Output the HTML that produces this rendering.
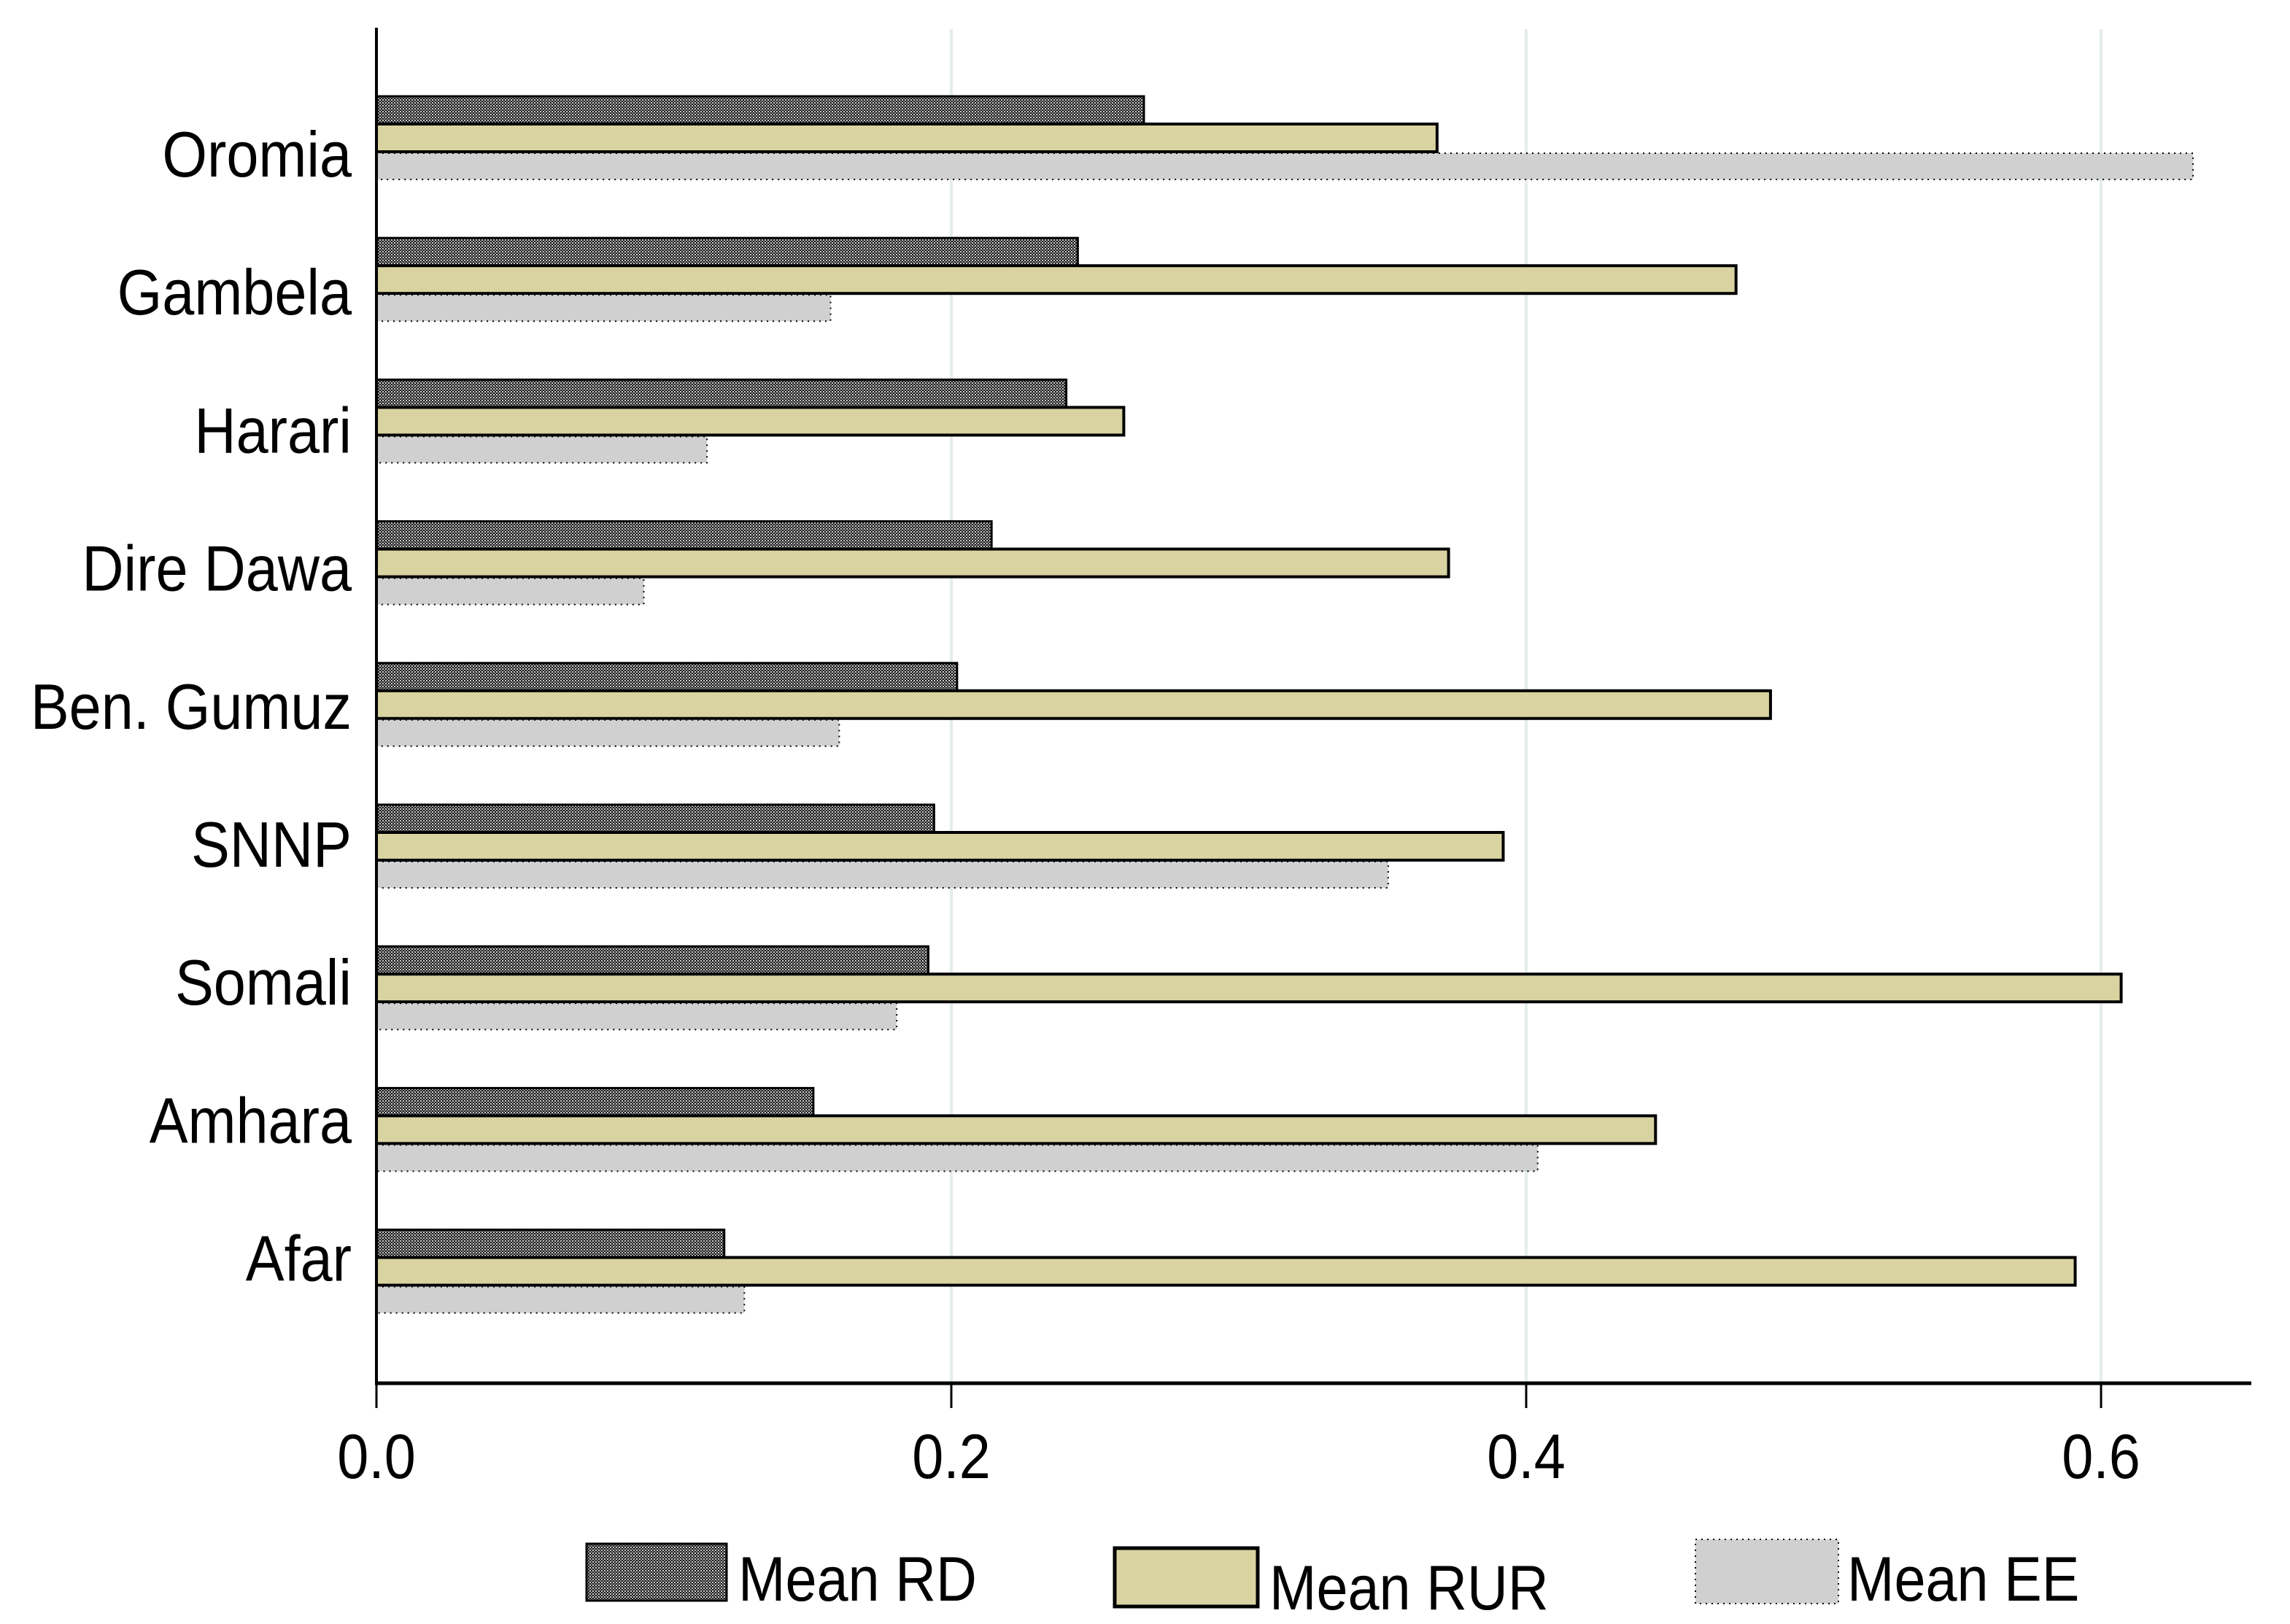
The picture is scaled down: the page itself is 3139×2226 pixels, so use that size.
<!DOCTYPE html>
<html><head><meta charset="utf-8"><style>
html,body{margin:0;padding:0;background:#fff;}
svg{display:block;font-family:"Liberation Sans",Arial,sans-serif;}
</style></head><body>
<svg id="chart" width="3139" height="2226" viewBox="0 0 3139 2226" xmlns="http://www.w3.org/2000/svg">
<defs>
<pattern id="rdpat" width="4" height="4" patternUnits="userSpaceOnUse">
<rect width="4" height="4" fill="#1a1a1a"/>
<rect x="0" y="0" width="2" height="2" fill="#ccc"/>
<rect x="2" y="2" width="2" height="2" fill="#888"/>
</pattern>
</defs>
<g id="grid"></g>
<g id="bars"></g>
<g id="axes"></g>
<g id="legend"></g>
</svg>
<script>
const categories = ["Oromia","Gambela","Harari","Dire Dawa","Ben. Gumuz","SNNP","Somali","Amhara","Afar"];
const meanRD  = [0.267,0.244,0.240,0.214,0.202,0.194,0.192,0.152,0.121];
const meanRUR = [0.369,0.473,0.260,0.373,0.485,0.392,0.607,0.445,0.591];
const meanEE  = [0.632,0.158,0.115,0.093,0.161,0.352,0.181,0.404,0.128];
const xTicks = [0,0.2,0.4,0.6];
const xTickLabels = ["0.0","0.2","0.4","0.6"];

const NS="http://www.w3.org/2000/svg";
const X0=516, PX=3940;
function xs(v){return X0+v*PX;}
const GROUP0=132, GSTEP=194.2, BH=38;
function ys(i){return GROUP0+i*GSTEP;}
const LABEL0=242, LSTEP=189.2;
function ly(i){return LABEL0+i*LSTEP;}
function mk(tag,attrs,parent){const e=document.createElementNS(NS,tag);for(const k in attrs)e.setAttribute(k,attrs[k]);parent.appendChild(e);return e;}
function txt(parent,x,y,size,anchor,str){
  const t=mk('text',{transform:'translate('+x+','+y+') scale(0.9,1)',x:0,y:0,'font-size':size,'text-anchor':anchor,fill:'#000'},parent);
  t.textContent=str;return t;
}
const grid=document.getElementById('grid'),bars=document.getElementById('bars'),axes=document.getElementById('axes'),legend=document.getElementById('legend');

xTicks.forEach((t,i)=>{
  if(t>0){
    const g=mk('line',{x1:xs(t),x2:xs(t),y1:40,y2:1895,stroke:'#e4ecec','stroke-width':4},grid);
    
    
  }
  const tk=mk('line',{x1:xs(t),x2:xs(t),y1:1895,y2:1930,stroke:'#000','stroke-width':3},axes);
  
  
  const tl=txt(axes,xs(t),2026,86,'middle',xTickLabels[i]);
  
  
});

function drawSeries(vals,off,kind){
  vals.forEach((v,i)=>{
    const y=ys(i)+off*BH, w=xs(v)-X0;
    let r;
    if(kind==='rd'){
      r=mk('rect',{x:X0,y:y,width:w,height:BH,fill:'url(#rdpat)',stroke:'#000','stroke-width':3},bars);
    } else if(kind==='rur'){
      r=mk('rect',{x:X0,y:y,width:w,height:BH,fill:'#d8d3a1',stroke:'#000','stroke-width':4},bars);
    } else {
      r=mk('rect',{x:X0,y:y+2,width:w,height:BH-2,fill:'#d0d0d0',stroke:'#000','stroke-width':2,'stroke-dasharray':'2 6'},bars);
    }
    
    
  });
}
drawSeries(meanRD,0,'rd');
drawSeries(meanRUR,1,'rur');
drawSeries(meanEE,2,'ee');

categories.forEach((c,i)=>{
  const t=txt(axes,482,ly(i),88,'end',c);
  
  
});

const ya=mk('line',{x1:X0,x2:X0,y1:38,y2:1898,stroke:'#000','stroke-width':4},axes);


const xa=mk('line',{x1:X0-2,x2:3086,y1:1896,y2:1896,stroke:'#000','stroke-width':5},axes);



const legItems=[{n:'Mean RD',k:'rd',bx:804,by:2116,tx:1012},{n:'Mean RUR',k:'rur',bx:1528,by:2122,tx:1740},{n:'Mean EE',k:'ee',bx:2324,by:2110,tx:2532}];
legItems.forEach(L=>{
  let r;
  if(L.k==='rd') r=mk('rect',{x:L.bx,y:L.by,width:192,height:78,fill:'url(#rdpat)',stroke:'#000','stroke-width':3},legend);
  else if(L.k==='rur') r=mk('rect',{x:L.bx,y:L.by,width:196,height:80,fill:'#d8d3a1',stroke:'#000','stroke-width':5},legend);
  else r=mk('rect',{x:L.bx,y:L.by,width:196,height:88,fill:'#d0d0d0',stroke:'#000','stroke-width':2,'stroke-dasharray':'2 6'},legend);
  
  
  const t=txt(legend,L.tx,L.by+(L.k==='rd'?78:84),86,'start',L.n);
  
  
});
</script>
</body></html>
